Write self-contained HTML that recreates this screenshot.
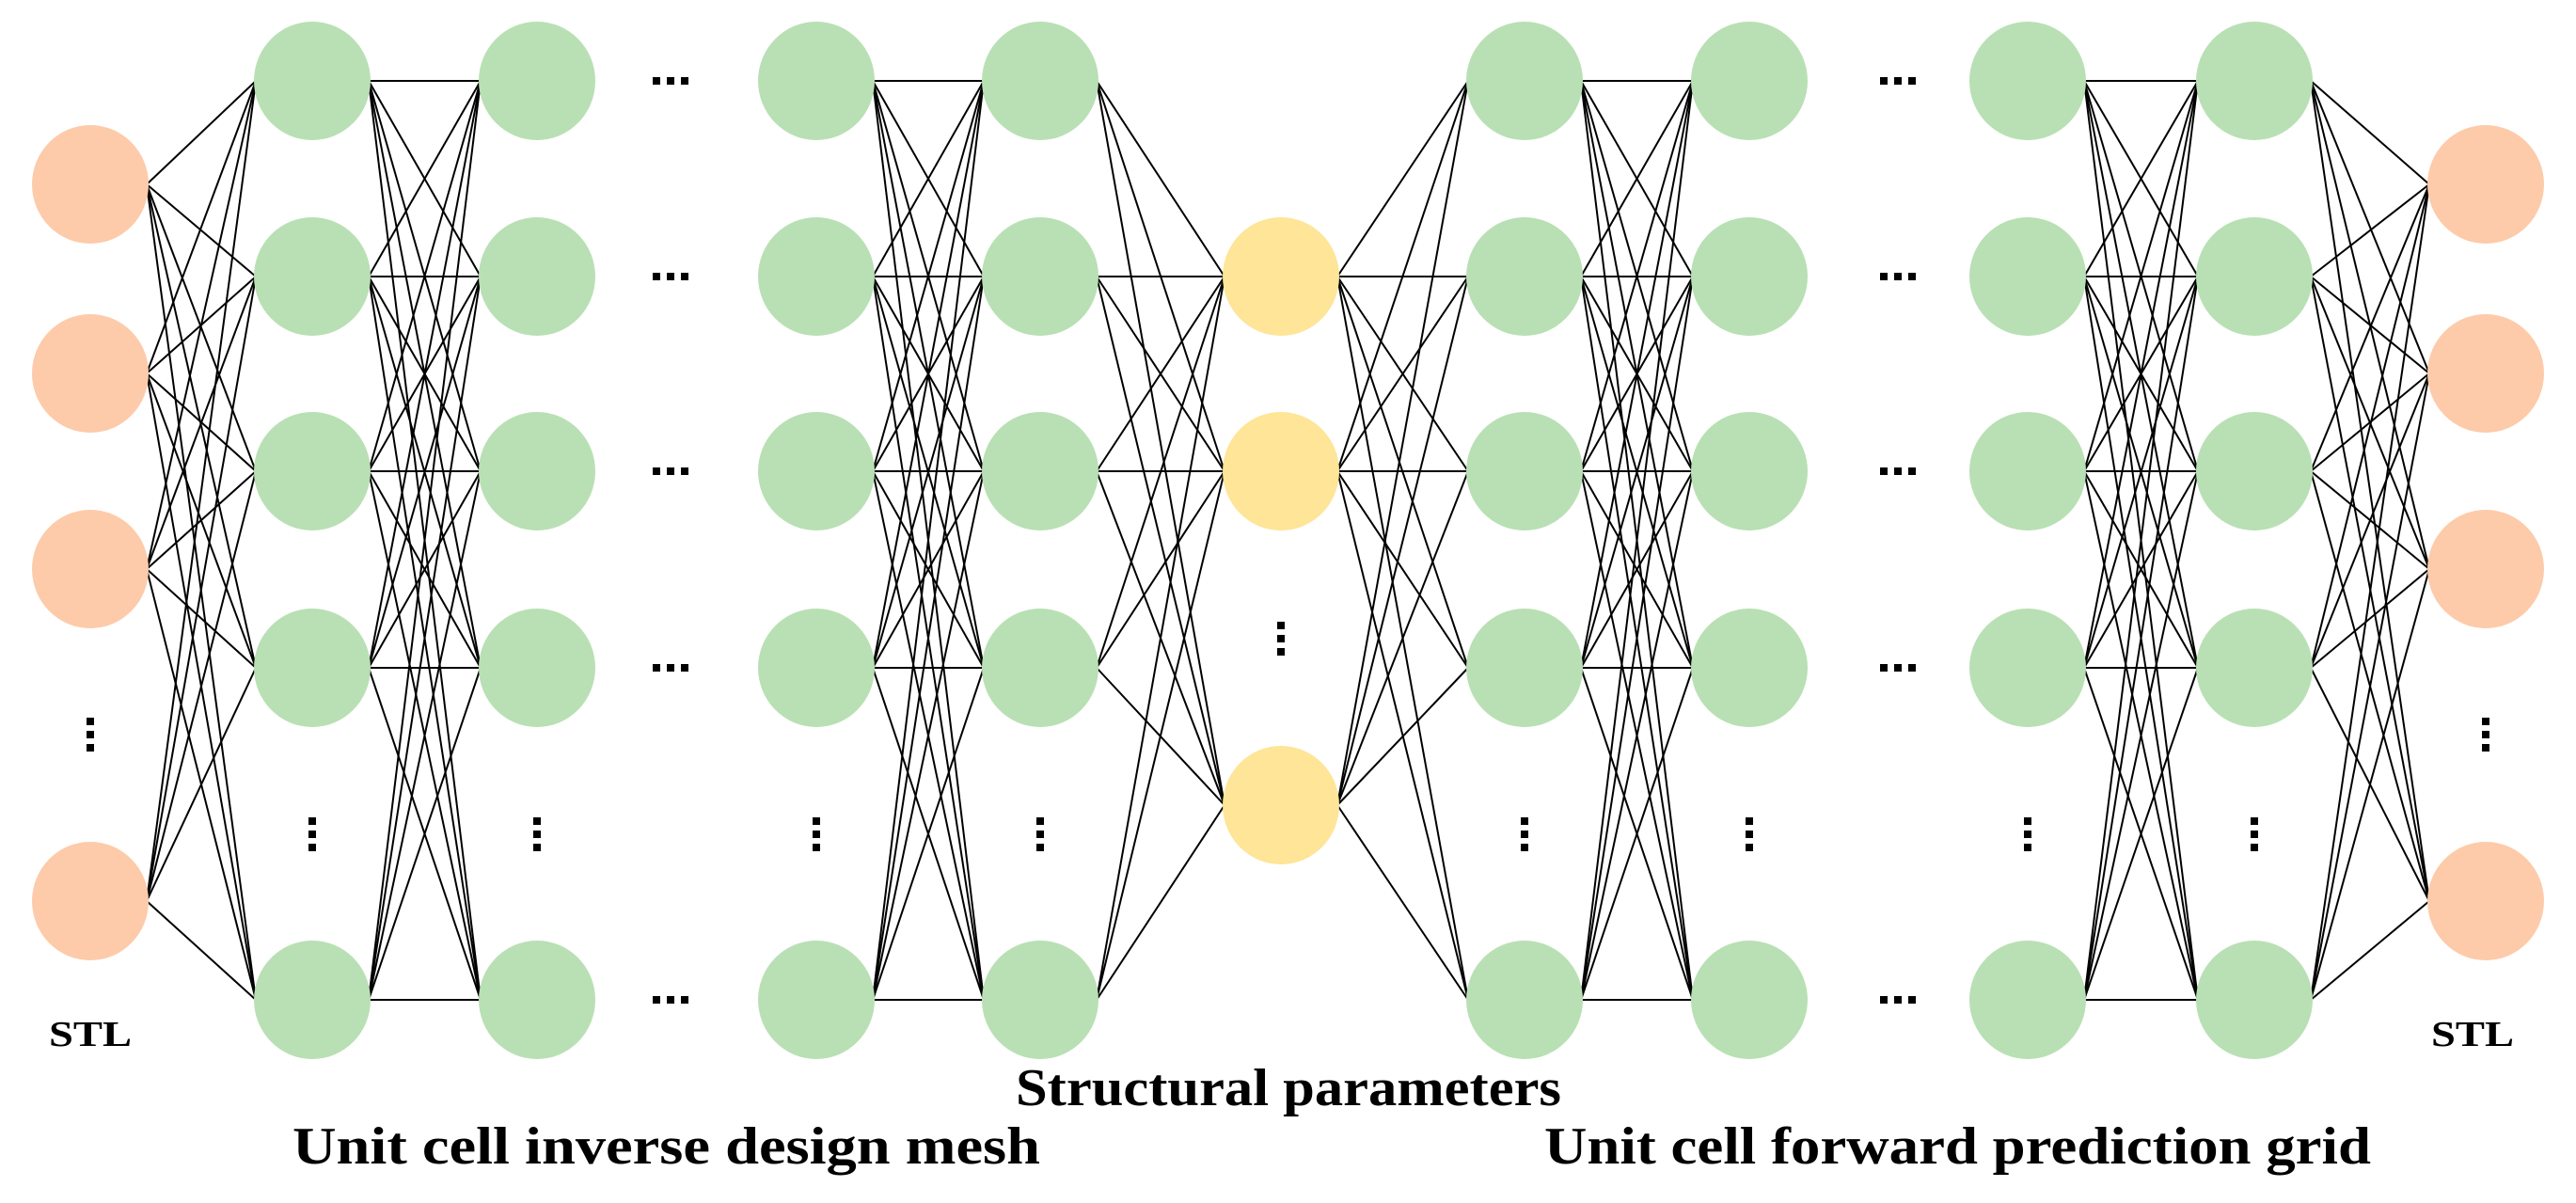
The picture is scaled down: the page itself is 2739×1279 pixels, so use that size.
<!DOCTYPE html>
<html><head><meta charset="utf-8"><style>
html,body{margin:0;padding:0;background:#fff;width:2739px;height:1279px;overflow:hidden}
svg{display:block}
text{font-family:"Liberation Serif",serif;font-weight:bold;fill:#000}
</style></head><body>
<svg id="s" width="2739" height="1279" viewBox="0 0 2739 1279" xmlns="http://www.w3.org/2000/svg">
<g id="lines" stroke="#000" stroke-width="2" fill="none"></g>
<g id="nodes"></g>
<g id="dots" fill="#000"></g>
<text x="52" y="1112" font-size="38" textLength="88" lengthAdjust="spacingAndGlyphs">STL</text>
<text x="2585" y="1112" font-size="38" textLength="88" lengthAdjust="spacingAndGlyphs">STL</text>
<text x="1080" y="1175" font-size="56" textLength="580" lengthAdjust="spacingAndGlyphs">Structural parameters</text>
<text x="311" y="1237" font-size="56" textLength="795" lengthAdjust="spacingAndGlyphs">Unit cell inverse design mesh</text>
<text x="1642" y="1237" font-size="56" textLength="879" lengthAdjust="spacingAndGlyphs">Unit cell forward prediction grid</text>
</svg>
<script>
var NS="http://www.w3.org/2000/svg";
var O=[196,397,605,958],G=[86,294,501,710,1063],Y=[294,501,856];
var L=[[96,O,"#fdcbaa"],[332,G],[571,G],[868,G],[1106,G],[1362,Y,"#fee597"],[1621,G],[1860,G],[2156,G],[2397,G],[2643,O,"#fdcbaa"]];
var R=62;
var lg=document.getElementById("lines"),ng=document.getElementById("nodes"),dg=document.getElementById("dots");
function el(t,a,p){var e=document.createElementNS(NS,t);for(var k in a)e.setAttribute(k,a[k]);p.appendChild(e);return e;}
var conn=[[0,1],[1,2],[3,4],[4,5],[5,6],[6,7],[8,9],[9,10]];
conn.forEach(function(c){var a=L[c[0]],b=L[c[1]];a[1].forEach(function(y1){b[1].forEach(function(y2){el("line",{x1:a[0]+R-2,y1:y1,x2:b[0]-R+2,y2:y2},lg);});});});
L.forEach(function(l){l[1].forEach(function(y){el("ellipse",{cx:l[0],cy:y,rx:R,ry:63,fill:l[2]||"#b9e0b4"},ng);});});
[713,2018].forEach(function(x){G.forEach(function(y){for(var i=-1;i<=1;i++)el("rect",{x:x+i*15-4,y:y-4,width:8,height:8},dg);});});
function vd(x,y){for(var i=-1;i<=1;i++)el("rect",{x:x-4,y:y+i*14-4,width:8,height:8},dg);}
[332,571,868,1106,1621,1860,2156,2397].forEach(function(x){vd(x,887);});
vd(96,781);vd(2643,781);vd(1362,679);
</script>
</body></html>
